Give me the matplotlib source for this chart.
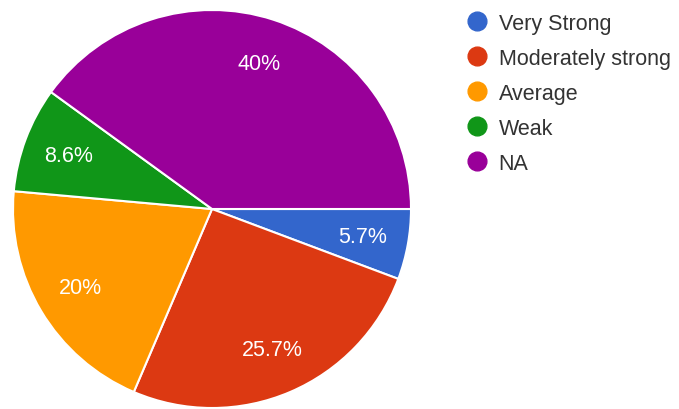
import matplotlib
matplotlib.use("Agg")
import matplotlib.pyplot as plt
from matplotlib.lines import Line2D

# Survey responses (35 in total)
categories = ["Very Strong", "Moderately strong", "Average", "Weak", "NA"]
counts = [2, 9, 7, 3, 14]
colors = ["#3366cc", "#dc3912", "#ff9900", "#109618", "#990099"]

plt.rcParams["font.family"] = ["Liberation Sans", "DejaVu Sans"]

W, H = 679, 410
fig = plt.figure(figsize=(W / 100, H / 100), dpi=100)
ax = fig.add_axes([0, 0, 1, 1])

wedges, texts, autotexts = ax.pie(
    counts,
    colors=colors,
    startangle=0,
    counterclock=False,
    center=(212, 200),
    radius=199,
    autopct="%1.1f%%",
    pctdistance=0.77,
    wedgeprops=dict(edgecolor="white", linewidth=1.5),
    textprops=dict(color="white", fontsize=15.5),
)
for t in autotexts:
    s = t.get_text()
    if s.endswith(".0%"):
        t.set_text(s.replace(".0%", "%"))

ax.set_xlim(0, W)
ax.set_ylim(0, H)
ax.set_aspect("auto")
ax.axis("off")

handles = [
    Line2D([], [], linestyle="none", marker="o", markersize=13.5,
           markerfacecolor=c, markeredgecolor=c)
    for c in colors
]
leg = fig.legend(
    handles, categories,
    loc="upper left",
    bbox_to_anchor=(466 / W, 1 - 14 / H),
    frameon=False,
    fontsize=15.5,
    handlelength=1.0,
    handletextpad=0.52,
    labelspacing=0.645,
    borderpad=0,
    borderaxespad=0,
)
for t in leg.get_texts():
    t.set_color("#333333")

fig.savefig("out.png", dpi=100, facecolor="white")
